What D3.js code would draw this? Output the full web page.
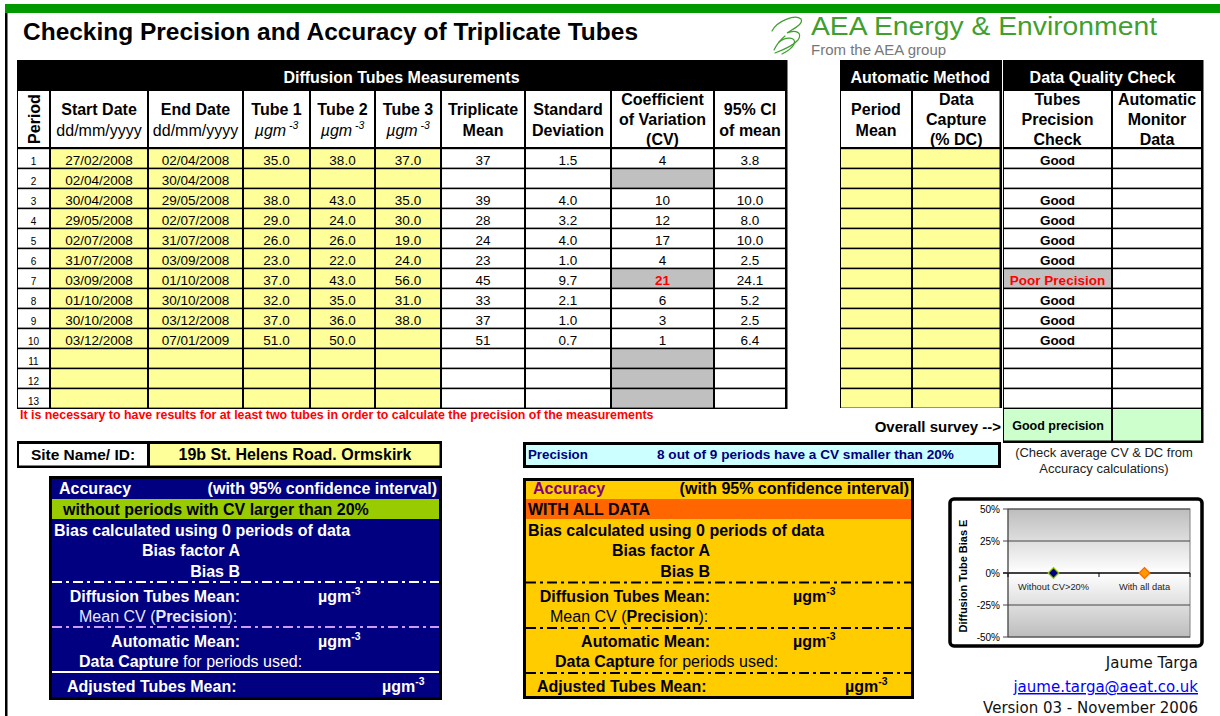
<!DOCTYPE html>
<html lang="en">
<head>
<meta charset="UTF-8">
<title>Checking Precision and Accuracy of Triplicate Tubes</title>
<script src="https://d3js.org/d3.v7.min.js"></script>
<style>
  body { margin: 0; background: #fff; }
</style>
</head>
<body>
<script>
// ---- data ----
const periods = [1, 2, 3, 4, 5, 6, 7, 8, 9, 10, 11, 12, 13];
const startDates = ["27/02/2008", "02/04/2008", "30/04/2008", "29/05/2008", "02/07/2008", "31/07/2008",
  "03/09/2008", "01/10/2008", "30/10/2008", "03/12/2008", "", "", ""];
const endDates = ["02/04/2008", "30/04/2008", "29/05/2008", "02/07/2008", "31/07/2008", "03/09/2008",
  "01/10/2008", "30/10/2008", "03/12/2008", "07/01/2009", "", "", ""];
const tube1 = [35, null, 38, 29, 26, 23, 37, 32, 37, 51, null, null, null];
const tube2 = [38, null, 43, 24, 26, 22, 43, 35, 36, 50, null, null, null];
const tube3 = [37, null, 35, 30, 19, 24, 56, 31, 38, null, null, null, null];
const tripleMean = [37, null, 39, 28, 24, 23, 45, 33, 37, 51, null, null, null];
const stdDev = [1.5, null, 4.0, 3.2, 4.0, 1.0, 9.7, 2.1, 1.0, 0.7, null, null, null];
const cvValues = [4, null, 10, 12, 17, 4, 21, 6, 3, 1, null, null, null];
const ci95 = [3.8, null, 10.0, 8.0, 10.0, 2.5, 24.1, 5.2, 2.5, 6.4, null, null, null];
const precisionCheck = ["Good", "", "Good", "Good", "Good", "Good", "Poor Precision", "Good", "Good", "Good", "", "", ""];
const overallPrecision = "Good precision";
const siteName = "19b St. Helens Road. Ormskirk";
const precisionSummary = "8 out of 9 periods have a CV smaller than 20%";
const periodsUsed = [0, 0];  // blue box, orange box

const biasCategories = ["Without CV>20%", "With all data"];
const biasValues = [0, 0];
const biasTicks = [50, 25, 0, -25, -50];

// ---- styles ----
const SANS = "'Liberation Sans', Arial, Helvetica, sans-serif";
const VERD = "'DejaVu Sans', Verdana, sans-serif";
const YELLOW = "#ffff99", GREY = "#c0c0c0", NAVY = "#000080";

const svg = d3.select("body").append("svg")
  .attr("width", 1220).attr("height", 716)
  .style("display", "block");

function txt(parent, x, y, s, o = {}) {
  return parent.append("text")
    .attr("x", x).attr("y", y)
    .attr("font-family", o.family || SANS)
    .attr("font-size", o.size || 13.5)
    .attr("font-weight", o.bold ? "bold" : "normal")
    .attr("font-style", o.italic ? "italic" : "normal")
    .attr("text-anchor", o.anchor || "start")
    .attr("fill", o.fill || "#000")
    .text(s);
}

// text followed by a superscript "-3"
function unitText(parent, x, y, base, o = {}) {
  const t = txt(parent, x, y, base, o);
  t.append("tspan").attr("dy", -7).attr("font-size", (o.size || 16) * 0.65)
    .text(o.gap ? " -3" : "-3");
  return t;
}

const f1 = d => d == null ? "" : d3.format(".1f")(d);
const f0 = d => d == null ? "" : d3.format(".0f")(d);

// ---- frame ----
svg.append("rect").attr("x", 5).attr("y", 4).attr("width", 1215).attr("height", 9).attr("fill", "#009900");
svg.append("rect").attr("x", 5).attr("y", 13).attr("width", 2.5).attr("height", 703).attr("fill", "#000");

txt(svg, 23, 40, "Checking Precision and Accuracy of Triplicate Tubes", { size: 23, bold: true })
  .attr("textLength", 615).attr("lengthAdjust", "spacingAndGlyphs");

// logo
const logo = svg.append("g").attr("fill", "none").attr("stroke", "#3f9f2f").attr("stroke-width", 1.2)
  .attr("stroke-linecap", "round");
logo.append("path").attr("d", "M772,31 C777,21 795,14 801,19 C804,24 793,29 787,33 C796,29 803,33 798,40 C793,46 783,50 775,53");
logo.append("path").attr("d", "M779,42 C786,36 797,37 794,44 C792,49 786,52 782,54");
logo.append("path").attr("d", "M785,36 C780,40 776,46 774,50");
txt(svg, 811, 35, "AEA Energy & Environment", { size: 26, fill: "#3f9f2f" })
  .attr("textLength", 346).attr("lengthAdjust", "spacingAndGlyphs");
txt(svg, 811, 55, "From the AEA group", { size: 15, fill: "#777" });

// ---- table helpers ----
const rowY = d3.scaleBand().domain(periods).range([148, 408]);

function drawTable(edges, title, columns, bottom) {
  const g = svg.append("g");
  const x0 = edges[0], x1 = edges[edges.length - 1];
  g.append("rect").attr("x", x0).attr("y", 60).attr("width", x1 - x0 + 1.5).attr("height", bottom - 60 + 1)
    .attr("fill", "#000");
  txt(g, (x0 + x1) / 2, 83, title, { size: 16, bold: true, fill: "#fff", anchor: "middle" });
  const colX = d3.scaleOrdinal().domain(columns.map((c, i) => i)).range(edges);
  columns.forEach((c, i) => {
    const a = colX(i) + 1, b = edges[i + 1] - 1, cx = (a + b) / 2;
    // header cell
    g.append("rect").attr("x", a).attr("y", 91).attr("width", b - a).attr("height", 56).attr("fill", "#fff");
    if (c.rotated) {
      txt(g, 0, 0, c.head[0], { size: 16, bold: true, anchor: "middle" })
        .attr("transform", `translate(${cx + 6},119) rotate(-90)`);
    } else {
      const base = c.head.length === 3 ? [105, 125, 145] : [115, 136];
      c.head.forEach((h, k) => {
        if (h === "unit") unitText(g, cx, base[k], "\u00b5gm", { size: 16, italic: true, anchor: "middle", gap: true });
        else txt(g, cx, base[k], h, { size: 16, bold: k === 0 || c.allBold, anchor: "middle" });
      });
    }
    // body cells
    g.selectAll(null).data(periods).join("rect")
      .attr("x", a).attr("y", d => rowY(d) + 1.2)
      .attr("width", b - a).attr("height", rowY.bandwidth() - 1.6)
      .attr("fill", (d, r) => typeof c.fill === "function" ? c.fill(r) : c.fill);
    g.selectAll(null).data(periods).join("text")
      .attr("x", cx).attr("y", d => rowY(d) + 16.6)
      .attr("font-family", SANS)
      .attr("font-size", c.size || 13.5)
      .attr("font-weight", (d, r) => c.bold && c.bold(r) ? "bold" : "normal")
      .attr("fill", (d, r) => c.color ? c.color(r) : "#000")
      .attr("text-anchor", "middle")
      .text((d, r) => c.value(r));
  });
  return g;
}

// ---- diffusion tubes table ----
const cvBad = r => cvValues[r] == null || cvValues[r] > 20;
drawTable([17, 50, 148, 243, 310, 375, 441, 525, 611, 714, 786], "Diffusion Tubes Measurements", [
  { head: ["Period"], rotated: true, fill: "#fff", value: r => periods[r], size: 10 },
  { head: ["Start Date", "dd/mm/yyyy"], fill: YELLOW, value: r => startDates[r] },
  { head: ["End Date", "dd/mm/yyyy"], fill: YELLOW, value: r => endDates[r] },
  { head: ["Tube 1", "unit"], fill: YELLOW, value: r => f1(tube1[r]) },
  { head: ["Tube 2", "unit"], fill: YELLOW, value: r => f1(tube2[r]) },
  { head: ["Tube 3", "unit"], fill: YELLOW, value: r => f1(tube3[r]) },
  { head: ["Triplicate", "Mean"], allBold: true, fill: "#fff", value: r => f0(tripleMean[r]) },
  { head: ["Standard", "Deviation"], allBold: true, fill: "#fff", value: r => f1(stdDev[r]) },
  { head: ["Coefficient", "of Variation", "(CV)"], allBold: true, fill: r => cvBad(r) ? GREY : "#fff",
    value: r => f0(cvValues[r]), bold: r => cvValues[r] > 20, color: r => cvValues[r] > 20 ? "#ff0000" : "#000" },
  { head: ["95% CI", "of mean"], allBold: true, fill: "#fff", value: r => f1(ci95[r]) }
], 408);

// ---- automatic method table ----
drawTable([840, 912, 1000.5], "Automatic Method", [
  { head: ["Period", "Mean"], allBold: true, fill: YELLOW, value: r => "" },
  { head: ["Data", "Capture", "(% DC)"], allBold: true, fill: YELLOW, value: r => "" }
], 407);

// ---- data quality check table ----
const dq = drawTable([1003, 1112, 1202], "Data Quality Check", [
  { head: ["Tubes", "Precision", "Check"], allBold: true,
    fill: r => precisionCheck[r] === "Poor Precision" ? GREY : "#fff",
    value: r => precisionCheck[r], bold: r => true,
    color: r => precisionCheck[r] === "Poor Precision" ? "#ff0000" : "#000" },
  { head: ["Automatic", "Monitor", "Data"], allBold: true, fill: "#fff", value: r => "" }
], 442);
dq.append("rect").attr("x", 1004).attr("y", 409).attr("width", 107).attr("height", 31.5).attr("fill", "#ccffcc");
dq.append("rect").attr("x", 1113).attr("y", 409).attr("width", 88).attr("height", 31.5).attr("fill", "#ccffcc");
txt(dq, 1058, 430, overallPrecision, { size: 12.5, bold: true, anchor: "middle" });
txt(svg, 1001, 432, "Overall survey -->", { size: 15, bold: true, anchor: "end" });
txt(svg, 1104, 457, "(Check average CV & DC from", { size: 13, anchor: "middle", fill: "#222" });
txt(svg, 1104, 473, "Accuracy calculations)", { size: 13, anchor: "middle", fill: "#222" });

txt(svg, 20, 419, "It is necessary to have results for at least two tubes in order to calculate the precision of the measurements",
  { size: 12.4, bold: true, fill: "#ff0000" });

// ---- site name ----
svg.append("rect").attr("x", 17).attr("y", 441).attr("width", 425).attr("height", 27).attr("fill", "#000");
svg.append("rect").attr("x", 19).attr("y", 444).attr("width", 128).attr("height", 21.5).attr("fill", "#fff");
svg.append("rect").attr("x", 150).attr("y", 444).attr("width", 289.5).attr("height", 21.5).attr("fill", YELLOW);
txt(svg, 83, 460, "Site Name/ ID:", { size: 15.5, bold: true, anchor: "middle" });
txt(svg, 295, 460, siteName, { size: 16, bold: true, anchor: "middle" });

// ---- precision summary ----
svg.append("rect").attr("x", 524.5).attr("y", 443.5).attr("width", 475).attr("height", 23)
  .attr("fill", "#ccffff").attr("stroke", "#000").attr("stroke-width", 3);
txt(svg, 528, 459, "Precision", { size: 13.3, bold: true, fill: NAVY });
txt(svg, 657, 459, precisionSummary, { size: 13.6, bold: true, fill: NAVY });

// ---- accuracy boxes ----
function accuracyBox(o) {
  const g = svg.append("g");
  g.append("rect").attr("x", o.x0 + 1.5).attr("y", o.y0 + 1.5).attr("width", o.x1 - o.x0 - 3).attr("height", o.y1 - o.y0 - 3)
    .attr("fill", o.fill).attr("stroke", "#000").attr("stroke-width", 3);
  g.append("rect").attr("x", o.x0 + 3).attr("y", 499).attr("width", o.x1 - o.x0 - 6).attr("height", 20).attr("fill", o.band);
  txt(g, o.headX, 494, "Accuracy", { size: 16, bold: true, fill: o.headFill });
  txt(g, o.x1 - 5, 494, "(with 95% confidence interval)", { size: 16, bold: true, fill: o.ink, anchor: "end" });
  txt(g, o.bandX, 515, o.bandText, { size: 16, bold: true });
  txt(g, o.x0 + 5, 536, `Bias calculated using ${o.used} periods of data`, { size: 16, bold: true, fill: o.ink });
  txt(g, o.labelR, 556, "Bias factor A", { size: 16, bold: true, fill: o.ink, anchor: "end" });
  txt(g, o.labelR, 577, "Bias B", { size: 16, bold: true, fill: o.ink, anchor: "end" });
  txt(g, o.labelR, 602, "Diffusion Tubes Mean:", { size: 16, bold: true, fill: o.ink, anchor: "end" });
  unitText(g, o.unitX, 602, "\u00b5gm", { size: 16, bold: true, fill: o.ink });
  const mcv = txt(g, o.cvX, 622, "Mean CV (", { size: 16, fill: o.soft });
  mcv.append("tspan").attr("font-weight", "bold").text("Precision");
  mcv.append("tspan").text("):");
  txt(g, o.labelR, 647, "Automatic Mean:", { size: 16, bold: true, fill: o.ink, anchor: "end" });
  unitText(g, o.unitX, 647, "\u00b5gm", { size: 16, bold: true, fill: o.ink });
  const dc = txt(g, o.dcX, 667, "Data Capture", { size: 16, bold: true, fill: o.ink });
  dc.append("tspan").attr("font-weight", "normal").text(" for periods used:");
  txt(g, o.adjX, 692, "Adjusted Tubes Mean:", { size: 16, bold: true, fill: o.ink });
  unitText(g, o.adjUnitX, 692, "\u00b5gm", { size: 16, bold: true, fill: o.ink });
  o.rules.forEach(r => {
    g.append("line").attr("x1", o.x0 + 3).attr("x2", o.x1 - 3).attr("y1", r.y).attr("y2", r.y)
      .attr("stroke", r.color).attr("stroke-width", 2)
      .attr("stroke-dasharray", r.dash || null);
  });
}

const DASH = "10,4,3,4";
accuracyBox({
  x0: 49, x1: 442, y0: 476, y1: 700, fill: NAVY, band: "#99cc00", headFill: "#fff", ink: "#fff", soft: "#e8e8ff",
  headX: 59, bandX: 63, bandText: "without periods with CV larger than 20%", used: periodsUsed[0],
  labelR: 240, unitX: 318, cvX: 79, dcX: 79, adjX: 67, adjUnitX: 382,
  rules: [{ y: 582, color: "#fff", dash: DASH }, { y: 627, color: "#cc99ff", dash: DASH }, { y: 672, color: "#fff" }]
});
accuracyBox({
  x0: 523, x1: 914, y0: 478, y1: 699, fill: "#ffcc00", band: "#ff6600", headFill: "#800080", ink: "#000", soft: "#000",
  headX: 533, bandX: 528, bandText: "WITH ALL DATA", used: periodsUsed[1],
  labelR: 710, unitX: 793, cvX: 550, dcX: 555, adjX: 537, adjUnitX: 845,
  rules: [{ y: 582.5, color: "#000", dash: DASH }, { y: 628, color: "#000", dash: DASH }, { y: 673, color: "#000", dash: DASH }]
});

// ---- bias chart ----
const chart = svg.append("g");
chart.append("rect").attr("x", 950).attr("y", 499).attr("width", 252).attr("height", 147).attr("rx", 4)
  .attr("fill", "#fff").attr("stroke", "#000").attr("stroke-width", 3.5);

const cy = d3.scaleLinear().domain([-50, 50]).range([637, 509]);
const cx = d3.scalePoint().domain(biasCategories).range([1008, 1190]).padding(0.5);

const grad = svg.append("defs").append("linearGradient").attr("id", "plotGrad")
  .attr("x1", 0).attr("y1", 0).attr("x2", 0).attr("y2", 1);
grad.append("stop").attr("offset", "0%").attr("stop-color", "#bdbdbd");
grad.append("stop").attr("offset", "50%").attr("stop-color", "#ffffff");
grad.append("stop").attr("offset", "100%").attr("stop-color", "#bdbdbd");

chart.append("rect").attr("x", 1008).attr("y", cy(50)).attr("width", 182).attr("height", cy(-50) - cy(50))
  .attr("fill", "url(#plotGrad)").attr("stroke", "#808080").attr("stroke-width", 1);

chart.selectAll(".grid").data(biasTicks).join("line")
  .attr("x1", 1003).attr("x2", 1190)
  .attr("y1", d => cy(d)).attr("y2", d => cy(d))
  .attr("stroke", d => d === 0 ? "#000" : "#444").attr("stroke-width", d => d === 0 ? 1.3 : 1);
chart.append("line").attr("x1", 1008).attr("x2", 1008).attr("y1", cy(50)).attr("y2", cy(-50)).attr("stroke", "#444");
chart.selectAll(".ylab").data(biasTicks).join("text")
  .attr("x", 1000).attr("y", d => cy(d) + 3.5)
  .attr("font-family", SANS).attr("font-size", 10).attr("text-anchor", "end")
  .text(d => d + "%");
txt(chart, 0, 0, "Diffusion Tube Bias E", { size: 11, bold: true, anchor: "middle" })
  .attr("transform", `translate(967,${cy(0) + 3}) rotate(-90)`);

// category ticks on the zero line
chart.selectAll(".xtick").data([1008, 1008 + cx.step(), 1190]).join("line")
  .attr("x1", d => d).attr("x2", d => d).attr("y1", cy(0)).attr("y2", cy(0) + 4)
  .attr("stroke", "#000");
chart.selectAll(".xlab").data(biasCategories).join("text")
  .attr("x", d => cx(d)).attr("y", cy(0) + 17)
  .attr("font-family", SANS).attr("font-size", 9.3).attr("text-anchor", "middle").attr("fill", "#222")
  .text(d => d);

const diamond = d3.symbol().type(d3.symbolSquare).size(58);
chart.selectAll(".pt").data(biasValues).join("path")
  .attr("d", diamond)
  .attr("transform", (d, i) => `translate(${cx(biasCategories[i])},${cy(d)}) rotate(45)`)
  .attr("fill", (d, i) => i === 0 ? NAVY : "#ff9900")
  .attr("stroke", (d, i) => i === 0 ? "#99cc00" : "#ff6600")
  .attr("stroke-width", 1.3);

// ---- credits ----
txt(svg, 1198, 668, "Jaume Targa", { family: VERD, size: 15, anchor: "end", fill: "#111" });
txt(svg, 1198, 692, "jaume.targa@aeat.co.uk", { family: VERD, size: 15, anchor: "end", fill: "#0000ff" })
  .attr("text-decoration", "underline");
txt(svg, 1198, 713, "Version 03 - November 2006", { family: VERD, size: 15, anchor: "end", fill: "#111" });
</script>
</body>
</html>
